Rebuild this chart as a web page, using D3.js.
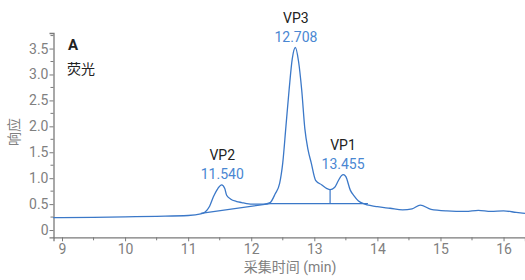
<!DOCTYPE html>
<html>
<head>
<meta charset="utf-8">
<script src="https://cdn.jsdelivr.net/npm/d3@7"></script>
<style>
  body { margin: 0; background: #fff; }
  text { font-family: Roboto, "Noto Sans CJK SC", sans-serif; }
</style>
</head>
<body>
<svg id="chart" width="525" height="280"></svg>
<script>
// chromatogram trace (time in min, response)
const traceTime = [8.86, 9.0, 9.5, 10.0, 10.5, 11.0, 11.2, 11.27, 11.34, 11.4, 11.47, 11.53, 11.58, 11.61, 11.67, 11.77, 11.85, 11.93, 12.05, 12.2, 12.3, 12.38, 12.45, 12.5, 12.55, 12.6, 12.65, 12.7, 12.75, 12.8, 12.85, 12.9, 12.95, 13.02, 13.12, 13.2, 13.25, 13.32, 13.38, 13.43, 13.46, 13.5, 13.57, 13.63, 13.7, 13.8, 13.9, 14.0, 14.2, 14.4, 14.55, 14.68, 14.85, 15.1, 15.4, 15.6, 15.8, 16.0, 16.2, 16.34];
const traceValue = [0.24, 0.24, 0.245, 0.255, 0.265, 0.28, 0.31, 0.35, 0.46, 0.64, 0.8, 0.87, 0.8, 0.67, 0.6, 0.55, 0.53, 0.51, 0.5, 0.5, 0.53, 0.7, 0.9, 1.3, 2.0, 2.7, 3.3, 3.52, 3.25, 2.7, 1.95, 1.55, 1.3, 0.96, 0.87, 0.8, 0.78, 0.82, 0.95, 1.05, 1.07, 1.03, 0.77, 0.66, 0.56, 0.5, 0.47, 0.45, 0.42, 0.39, 0.41, 0.48, 0.4, 0.37, 0.36, 0.38, 0.36, 0.37, 0.34, 0.32];

// integration baseline and drop lines
const baseTime = [11.2, 12.3, 13.85];
const baseValue = [0.32, 0.51, 0.51];
const dropTime = [12.3, 13.25];
const dropTop = [0.53, 0.78];

// peak annotations
const peakNames = ["VP2", "VP3", "VP1"];
const peakTimes = [11.540, 12.708, 13.455];
const peakLabelY = [1.35, 3.99, 1.54];

const xTicks = [9, 10, 11, 12, 13, 14, 15, 16];
const yTicks = [0, 0.5, 1.0, 1.5, 2.0, 2.5, 3.0, 3.5];

// 1) Setup
const svg = d3.select("#chart");
const margin = { left: 53.5, right: 0, top: 33, bottom: 42.7 };
const width = 525, height = 280;

const x = d3.scaleLinear().domain([8.865, 16.34]).range([margin.left, width - margin.right]);
const y = d3.scaleLinear().domain([-0.14, 3.8]).range([height - margin.bottom, margin.top]);

const axisColor = "#7a7a7a";
const lineColor = "#3b78c8";
const labelBlue = "#4a87d2";

// 2) Axes
const xAxis = svg.append("g")
  .attr("transform", `translate(0,${y.range()[0]})`)
  .call(d3.axisBottom(x).tickValues(xTicks).tickFormat(d3.format("d")).tickSize(4).tickPadding(3));

// minor x ticks at half units
svg.append("g")
  .selectAll("line")
  .data(d3.range(9.5, 16.4, 1))
  .join("line")
  .attr("x1", d => x(d)).attr("x2", d => x(d))
  .attr("y1", y.range()[0]).attr("y2", y.range()[0] + 3)
  .attr("stroke", axisColor);

const yAxis = svg.append("g")
  .attr("transform", `translate(${margin.left},0)`)
  .call(d3.axisLeft(y).tickValues(yTicks).tickFormat(d => d === 0 ? "0" : d3.format(".1f")(d)).tickSize(4).tickPadding(1));

// minor y ticks at quarter units
svg.append("g")
  .selectAll("line")
  .data(d3.range(0.25, 3.8, 0.5))
  .join("line")
  .attr("x1", margin.left - 3).attr("x2", margin.left)
  .attr("y1", d => y(d)).attr("y2", d => y(d))
  .attr("stroke", axisColor);

[xAxis, yAxis].forEach(g => {
  g.select(".domain").attr("stroke", axisColor).attr("stroke-width", 1.3);
  g.selectAll(".tick line").attr("stroke", axisColor);
  g.selectAll(".tick text")
    .attr("fill", "#808080")
    .attr("font-size", 14)
    .attr("font-family", "Roboto, sans-serif");
});

// 3) Axis titles
svg.append("text")
  .attr("x", 290).attr("y", 272)
  .attr("text-anchor", "middle")
  .attr("font-size", 14).attr("fill", "#808080")
  .text("采集时间 (min)");

svg.append("text")
  .attr("transform", "translate(19,132) rotate(-90)")
  .attr("text-anchor", "middle")
  .attr("font-size", 14).attr("fill", "#808080")
  .text("响应");

// 4) Panel label
svg.append("text")
  .attr("x", 68).attr("y", 50)
  .attr("font-size", 15).attr("font-weight", "bold").attr("fill", "#222")
  .text("A");
svg.append("text")
  .attr("x", 67).attr("y", 74)
  .attr("font-size", 14).attr("fill", "#222")
  .text("荧光");

// 5) Trace
const trace = traceTime.map((t, i) => ({ t, v: traceValue[i] }));
const line = d3.line()
  .x(d => x(d.t))
  .y(d => y(d.v))
  .curve(d3.curveMonotoneX);

svg.append("path")
  .datum(trace)
  .attr("d", line)
  .attr("fill", "none")
  .attr("stroke", lineColor)
  .attr("stroke-width", 1.3);

// baseline + drop lines
svg.append("path")
  .datum(baseTime.map((t, i) => ({ t, v: baseValue[i] })))
  .attr("d", d3.line().x(d => x(d.t)).y(d => y(d.v)))
  .attr("fill", "none")
  .attr("stroke", lineColor)
  .attr("stroke-width", 1.2);

svg.append("g")
  .selectAll("line")
  .data(dropTime)
  .join("line")
  .attr("x1", d => x(d)).attr("x2", d => x(d))
  .attr("y1", y(0.51)).attr("y2", (d, i) => y(dropTop[i]))
  .attr("stroke", lineColor)
  .attr("stroke-width", 1.2);

// 6) Peak labels
const peaks = svg.append("g")
  .selectAll("g")
  .data(peakNames)
  .join("g")
  .attr("transform", (d, i) => `translate(${x(peakTimes[i])},${y(peakLabelY[i])})`);

peaks.append("text")
  .attr("text-anchor", "middle")
  .attr("font-size", 14).attr("fill", "#222")
  .text(d => d);

peaks.append("text")
  .attr("text-anchor", "middle")
  .attr("y", 19)
  .attr("font-size", 14).attr("fill", labelBlue)
  .text((d, i) => d3.format(".3f")(peakTimes[i]));
</script>
</body>
</html>
